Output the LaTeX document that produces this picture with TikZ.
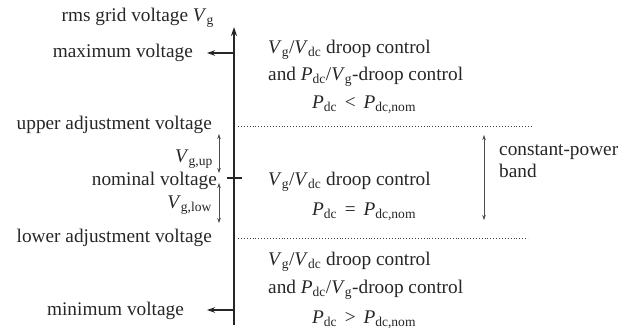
\documentclass[tikz,border=0pt]{standalone}
\usepackage{fontspec}
\setmainfont{Liberation Serif}
\usetikzlibrary{arrows.meta}
\newcommand{\qv}[2]{\textit{#1}\textsubscript{#2}}
\begin{document}
\begin{tikzpicture}[x=1pt,y=-1pt,
  lbl/.style={inner sep=0pt,font=\fontsize{19.3}{23}\selectfont,text=black!85},
  axisline/.style={line width=1.4pt,black!85},
  thinarr/.style={line width=0.6pt,black!70,{Stealth[length=5pt,width=3.5pt]}-{Stealth[length=5pt,width=3.5pt]}},
  sep/.style={line width=0.9pt,black!75,dotted}]
\useasboundingbox (0,0) rectangle (642,333);
% axis
\coordinate (abot) at (234,325);
\coordinate (atop) at (234,27);
\draw[axisline,-{Stealth[length=9pt,width=6pt]}] (abot) -- (atop);
\coordinate (amax) at (234,53);
\coordinate (tmax) at (207,53);
\draw[axisline,-{Stealth[length=8pt,width=5.5pt]}] (amax) -- (tmax);
\coordinate (amin) at (234,310);
\coordinate (tmin) at (207,310);
\draw[axisline,-{Stealth[length=8pt,width=5.5pt]}] (amin) -- (tmin);
\coordinate (tickl) at (227,178);
\coordinate (tickr) at (242,178);
\draw[axisline] (tickl) -- (tickr);
% left labels
\node[lbl,anchor=base east] (title) at (214,21) {rms grid voltage \qv{V}{g}};
\node[lbl,anchor=base east] (maxv) at (193,57) {maximum voltage};
\node[lbl,anchor=base east] (upv) at (212,129) {upper adjustment voltage};
\node[lbl,anchor=base east] (vgup) at (213,162) {\qv{V}{g,up}};
\node[lbl,anchor=base east] (nomv) at (217,185) {nominal voltage};
\node[lbl,anchor=base east] (vglow) at (212,208) {\qv{V}{g,low}};
\node[lbl,anchor=base east] (lowv) at (212,242) {lower adjustment voltage};
\node[lbl,anchor=base east] (minv) at (184,315) {minimum voltage};
% small arrows
\coordinate (ua) at (219,134);
\coordinate (ub) at (219,173);
\draw[thinarr] (ua) -- (ub);
\coordinate (la) at (219,183);
\coordinate (lb) at (219,223);
\draw[thinarr] (la) -- (lb);
% dotted separators
\coordinate (d1a) at (238,126);
\coordinate (d1b) at (533,126);
\draw[sep] (d1a) -- (d1b);
\coordinate (d2a) at (238,238);
\coordinate (d2b) at (528,238);
\draw[sep] (d2a) -- (d2b);
% right texts
\node[lbl,anchor=base west] (r1a) at (268,53) {\qv{V}{g}/\qv{V}{dc} droop control};
\node[lbl,anchor=base west] (r1b) at (268,80) {and \qv{P}{dc}/\qv{V}{g}-droop control};
\node[lbl,anchor=base west] (r1c) at (312,108) {\qv{P}{dc} {\kern0.15em}<{\kern0.15em} \qv{P}{dc,nom}};
\node[lbl,anchor=base west] (r2a) at (268,185) {\qv{V}{g}/\qv{V}{dc} droop control};
\node[lbl,anchor=base west] (r2b) at (312,215) {\qv{P}{dc} {\kern0.15em}={\kern0.15em} \qv{P}{dc,nom}};
\node[lbl,anchor=base west] (r3a) at (268,265) {\qv{V}{g}/\qv{V}{dc} droop control};
\node[lbl,anchor=base west] (r3b) at (268,293) {and \qv{P}{dc}/\qv{V}{g}-droop control};
\node[lbl,anchor=base west] (r3c) at (312,323) {\qv{P}{dc} {\kern0.15em}>{\kern0.15em} \qv{P}{dc,nom}};
% band
\coordinate (ba) at (484,135);
\coordinate (bb) at (484,220);
\draw[thinarr] (ba) -- (bb);
\node[lbl,anchor=base west] (cp) at (499,155) {constant-power};
\node[lbl,anchor=base west] (band) at (499,177) {band};
\end{tikzpicture}
\end{document}
